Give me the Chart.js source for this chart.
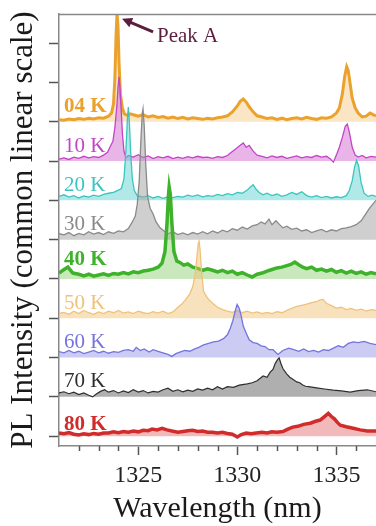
<!DOCTYPE html>
<html>
<head>
<meta charset="utf-8">
<script src="https://cdn.jsdelivr.net/npm/chart.js@4.4.1/dist/chart.umd.min.js"></script>
<style>
  html, body { margin: 0; padding: 0; background: #fff; overflow: hidden; }
</style>
</head>
<body>
<canvas id="pl" width="376" height="526"></canvas>
<script>
// PL spectra, stacked with one unit of offset per temperature.
// each entry: [wavelength nm, intensity above own baseline]
const temps = ['04 K', '10 K', '20 K', '30 K', '40 K', '50 K', '60 K', '70 K', '80 K'];
const offsets = [8, 7, 6, 5, 4, 3, 2, 1, 0];

const s04 = [[1321,0.05],[1321.25,0.04],[1321.5,0.07],[1321.75,0.05],[1322,0.08],[1322.25,0.06],[1322.5,0.09],[1322.75,0.07],[1323,0.1],[1323.25,0.09],[1323.5,0.14],[1323.65,0.22],[1323.75,0.45],[1323.82,1.1],[1323.88,2.2],[1323.93,2.77],[1323.98,2.4],[1324.03,1.5],[1324.1,0.7],[1324.2,0.35],[1324.3,0.2],[1324.45,0.16],[1324.6,0.2],[1324.8,0.17],[1325,0.14],[1325.25,0.18],[1325.5,0.12],[1325.75,0.15],[1326,0.11],[1326.25,0.13],[1326.5,0.09],[1326.75,0.12],[1327,0.08],[1327.25,0.11],[1327.5,0.07],[1327.75,0.1],[1328,0.08],[1328.25,0.06],[1328.5,0.09],[1328.75,0.07],[1329,0.1],[1329.25,0.12],[1329.5,0.15],[1329.75,0.25],[1330,0.4],[1330.15,0.52],[1330.3,0.58],[1330.45,0.5],[1330.6,0.38],[1330.8,0.25],[1331,0.15],[1331.25,0.12],[1331.5,0.08],[1331.75,0.1],[1332,0.06],[1332.25,0.09],[1332.5,0.05],[1332.75,0.08],[1333,0.1],[1333.25,0.07],[1333.5,0.11],[1333.75,0.08],[1334,0.06],[1334.25,0.1],[1334.5,0.09],[1334.75,0.12],[1335,0.22],[1335.15,0.35],[1335.3,0.7],[1335.42,1.15],[1335.52,1.4],[1335.6,1.3],[1335.7,0.95],[1335.8,0.6],[1335.95,0.35],[1336.1,0.22],[1336.3,0.12],[1336.5,0.14],[1336.7,0.22],[1336.85,0.18],[1337,0.15]];

const s10 = [[1321,0.05],[1321.25,0.08],[1321.5,0.04],[1321.75,0.1],[1322,0.07],[1322.25,0.12],[1322.5,0.08],[1322.75,0.11],[1323,0.09],[1323.25,0.15],[1323.45,0.22],[1323.6,0.38],[1323.72,0.5],[1323.82,0.85],[1323.92,1.4],[1323.98,1.9],[1324.03,2.14],[1324.08,1.85],[1324.14,1.3],[1324.2,0.7],[1324.28,0.25],[1324.38,0.08],[1324.5,0.14],[1324.75,0.1],[1325,0.16],[1325.25,0.09],[1325.5,0.13],[1325.75,0.06],[1326,0.11],[1326.25,0.08],[1326.5,0.12],[1326.75,0.06],[1327,0.1],[1327.25,0.07],[1327.5,0.11],[1327.75,0.08],[1328,0.12],[1328.25,0.09],[1328.5,0.1],[1328.75,0.07],[1329,0.11],[1329.25,0.09],[1329.5,0.14],[1329.7,0.22],[1329.9,0.3],[1330.1,0.38],[1330.3,0.46],[1330.45,0.35],[1330.6,0.4],[1330.8,0.25],[1331,0.15],[1331.25,0.12],[1331.5,0.08],[1331.75,0.13],[1332,0.09],[1332.25,0.12],[1332.5,0.07],[1332.75,0.1],[1333,0.13],[1333.25,0.08],[1333.5,0.11],[1333.75,0.09],[1334,0.14],[1334.25,0.1],[1334.5,0.12],[1334.7,0.05],[1334.85,-0.03],[1335,0.15],[1335.15,0.35],[1335.3,0.6],[1335.45,0.88],[1335.55,0.94],[1335.65,0.75],[1335.8,0.35],[1335.95,0.15],[1336.1,0.1],[1336.3,0.14],[1336.5,0.08],[1336.75,0.12],[1337,0.1]];

const s20 = [[1321,0.1],[1321.25,0.14],[1321.5,0.08],[1321.75,0.12],[1322,0.06],[1322.25,0.11],[1322.5,0.08],[1322.75,0.13],[1323,0.1],[1323.25,0.15],[1323.5,0.18],[1323.75,0.2],[1324,0.26],[1324.15,0.3],[1324.28,0.55],[1324.38,1.3],[1324.45,2.05],[1324.5,2.37],[1324.55,2.0],[1324.62,1.2],[1324.7,0.55],[1324.8,0.25],[1324.95,0.12],[1325.25,0.08],[1325.5,0.12],[1325.75,0.06],[1326,0.1],[1326.25,0.05],[1326.5,0.09],[1326.75,0.07],[1327,0.1],[1327.25,0.08],[1327.5,0.13],[1327.75,0.1],[1328,0.14],[1328.25,0.09],[1328.5,0.12],[1328.75,0.1],[1329,0.15],[1329.25,0.12],[1329.5,0.17],[1329.75,0.14],[1330,0.2],[1330.25,0.18],[1330.5,0.26],[1330.7,0.36],[1330.8,0.4],[1330.95,0.28],[1331.1,0.2],[1331.3,0.14],[1331.5,0.18],[1331.75,0.12],[1332,0.16],[1332.25,0.1],[1332.5,0.14],[1332.75,0.2],[1333,0.15],[1333.25,0.22],[1333.5,0.12],[1333.75,0.08],[1334,0.12],[1334.25,0.07],[1334.5,0.1],[1334.75,0.06],[1335,0.09],[1335.25,0.07],[1335.5,0.12],[1335.65,0.25],[1335.8,0.5],[1335.92,0.85],[1336.02,1.02],[1336.12,0.88],[1336.25,0.45],[1336.4,0.18],[1336.6,0.1],[1336.8,0.13],[1337,0.1]];

const s30 = [[1321,0.15],[1321.25,0.12],[1321.5,0.18],[1321.75,0.1],[1322,0.16],[1322.25,0.12],[1322.5,0.2],[1322.75,0.14],[1323,0.18],[1323.25,0.13],[1323.5,0.2],[1323.75,0.16],[1324,0.22],[1324.25,0.2],[1324.5,0.28],[1324.7,0.45],[1324.85,0.6],[1324.95,0.9],[1325.05,1.5],[1325.13,2.5],[1325.2,3.2],[1325.24,3.33],[1325.3,2.9],[1325.38,1.9],[1325.47,1.1],[1325.6,0.8],[1325.75,0.65],[1325.9,0.45],[1326.1,0.3],[1326.3,0.22],[1326.5,0.15],[1326.75,0.2],[1327,0.13],[1327.25,0.17],[1327.5,0.12],[1327.75,0.18],[1328,0.14],[1328.25,0.2],[1328.5,0.15],[1328.75,0.22],[1329,0.17],[1329.25,0.24],[1329.5,0.2],[1329.75,0.28],[1330,0.24],[1330.25,0.32],[1330.5,0.27],[1330.75,0.35],[1331,0.38],[1331.2,0.45],[1331.4,0.4],[1331.6,0.52],[1331.75,0.38],[1331.95,0.48],[1332.1,0.4],[1332.3,0.3],[1332.5,0.34],[1332.75,0.26],[1333,0.29],[1333.25,0.22],[1333.5,0.25],[1333.75,0.18],[1334,0.22],[1334.25,0.26],[1334.5,0.2],[1334.75,0.25],[1335,0.22],[1335.25,0.28],[1335.5,0.3],[1335.75,0.33],[1336,0.38],[1336.25,0.48],[1336.45,0.63],[1336.65,0.78],[1336.8,0.88],[1337,1.0]];

const s40 = [[1321,0.15],[1321.2,0.22],[1321.45,0.3],[1321.7,0.15],[1322,0.12],[1322.25,0.08],[1322.5,0.12],[1322.75,0.07],[1323,0.1],[1323.25,0.13],[1323.5,0.09],[1323.75,0.14],[1324,0.12],[1324.25,0.16],[1324.5,0.13],[1324.75,0.18],[1325,0.16],[1325.25,0.2],[1325.5,0.22],[1325.75,0.25],[1326,0.3],[1326.2,0.4],[1326.35,0.7],[1326.45,1.4],[1326.52,2.1],[1326.56,2.34],[1326.62,2.15],[1326.7,1.4],[1326.8,0.7],[1326.95,0.45],[1327.1,0.42],[1327.3,0.35],[1327.5,0.38],[1327.75,0.3],[1328,0.27],[1328.25,0.22],[1328.5,0.26],[1328.75,0.22],[1329,0.18],[1329.25,0.22],[1329.5,0.16],[1329.75,0.2],[1330,0.12],[1330.25,0.16],[1330.5,0.1],[1330.75,0.05],[1331,0.12],[1331.25,0.15],[1331.5,0.2],[1331.75,0.24],[1332,0.28],[1332.25,0.3],[1332.5,0.34],[1332.7,0.37],[1332.9,0.43],[1333.1,0.36],[1333.3,0.3],[1333.5,0.26],[1333.75,0.3],[1334,0.22],[1334.25,0.25],[1334.5,0.2],[1334.75,0.24],[1335,0.17],[1335.25,0.21],[1335.5,0.15],[1335.75,0.2],[1336,0.14],[1336.25,0.18],[1336.5,0.12],[1336.75,0.16],[1337,0.13]];

const s50 = [[1321,0.12],[1321.25,0.15],[1321.5,0.1],[1321.75,0.18],[1322,0.12],[1322.25,0.2],[1322.5,0.14],[1322.75,0.1],[1323,0.16],[1323.25,0.12],[1323.5,0.18],[1323.75,0.14],[1324,0.2],[1324.25,0.13],[1324.5,0.16],[1324.75,0.12],[1325,0.18],[1325.25,0.14],[1325.5,0.12],[1325.75,0.17],[1326,0.13],[1326.25,0.18],[1326.5,0.12],[1326.75,0.16],[1327,0.28],[1327.2,0.36],[1327.4,0.48],[1327.6,0.62],[1327.75,0.8],[1327.88,1.15],[1327.97,1.6],[1328.03,1.9],[1328.07,1.96],[1328.12,1.75],[1328.2,1.15],[1328.3,0.68],[1328.45,0.55],[1328.6,0.45],[1328.8,0.36],[1329,0.28],[1329.25,0.22],[1329.5,0.18],[1329.75,0.15],[1330,0.2],[1330.25,0.14],[1330.5,0.18],[1330.75,0.13],[1331,0.16],[1331.25,0.12],[1331.5,0.15],[1331.75,0.12],[1332,0.17],[1332.25,0.14],[1332.5,0.2],[1332.75,0.25],[1333,0.3],[1333.25,0.33],[1333.5,0.36],[1333.75,0.4],[1334,0.42],[1334.15,0.46],[1334.33,0.48],[1334.5,0.38],[1334.75,0.32],[1335,0.26],[1335.25,0.28],[1335.5,0.22],[1335.75,0.25],[1336,0.2],[1336.25,0.23],[1336.5,0.18],[1336.75,0.22],[1337,0.2]];

const s60 = [[1321,0.15],[1321.25,0.12],[1321.5,0.18],[1321.75,0.12],[1322,0.16],[1322.25,0.1],[1322.5,0.14],[1322.75,0.18],[1323,0.12],[1323.25,0.16],[1323.5,0.11],[1323.75,0.15],[1324,0.13],[1324.25,0.18],[1324.5,0.2],[1324.75,0.16],[1324.9,0.26],[1325.1,0.18],[1325.3,0.22],[1325.55,0.14],[1325.75,0.2],[1326,0.16],[1326.25,0.12],[1326.5,0.08],[1326.7,0.03],[1326.9,0.1],[1327.1,0.14],[1327.35,0.18],[1327.6,0.16],[1327.85,0.22],[1328.05,0.26],[1328.3,0.32],[1328.55,0.36],[1328.8,0.4],[1329.05,0.42],[1329.3,0.48],[1329.5,0.58],[1329.65,0.75],[1329.78,0.95],[1329.9,1.2],[1329.99,1.35],[1330.1,1.25],[1330.2,1.05],[1330.3,0.8],[1330.45,0.62],[1330.6,0.45],[1330.8,0.38],[1331,0.36],[1331.2,0.3],[1331.4,0.28],[1331.6,0.2],[1331.8,0.2],[1332.05,0.08],[1332.3,0.18],[1332.6,0.24],[1332.85,0.2],[1333.1,0.16],[1333.35,0.22],[1333.6,0.15],[1333.85,0.18],[1334.1,0.14],[1334.35,0.2],[1334.6,0.18],[1334.85,0.24],[1335.1,0.3],[1335.35,0.26],[1335.6,0.36],[1335.85,0.4],[1336.1,0.38],[1336.4,0.41],[1336.7,0.36],[1337,0.33]];

const s70 = [[1321,0.1],[1321.25,0.13],[1321.5,0.08],[1321.75,0.12],[1322,0.06],[1322.25,0.1],[1322.5,0.04],[1322.7,0.0],[1322.9,0.08],[1323.1,0.14],[1323.3,0.18],[1323.5,0.12],[1323.75,0.16],[1324,0.1],[1324.25,0.15],[1324.5,0.11],[1324.75,0.18],[1325,0.12],[1325.25,0.16],[1325.5,0.1],[1325.75,0.14],[1326,0.12],[1326.25,0.18],[1326.5,0.22],[1326.75,0.14],[1327,0.18],[1327.25,0.13],[1327.5,0.17],[1327.75,0.14],[1328,0.2],[1328.25,0.17],[1328.5,0.22],[1328.75,0.18],[1329,0.26],[1329.25,0.2],[1329.5,0.26],[1329.8,0.24],[1330.1,0.3],[1330.5,0.33],[1330.75,0.36],[1331,0.41],[1331.3,0.53],[1331.5,0.5],[1331.66,0.63],[1331.8,0.7],[1331.92,0.86],[1332.05,0.96],[1332.11,0.99],[1332.2,0.85],[1332.3,0.72],[1332.5,0.58],[1332.65,0.5],[1332.8,0.45],[1333,0.38],[1333.15,0.36],[1333.3,0.3],[1333.45,0.27],[1333.6,0.26],[1334,0.23],[1334.4,0.2],[1334.84,0.17],[1335.25,0.15],[1335.7,0.12],[1336.1,0.16],[1336.56,0.18],[1337,0.13]];

const s80 = [[1321,0.08],[1321.25,0.06],[1321.5,0.09],[1321.75,0.05],[1322,0.03],[1322.25,0.06],[1322.5,0.04],[1322.75,0.07],[1323,0.05],[1323.25,0.08],[1323.5,0.08],[1323.75,0.11],[1324,0.09],[1324.25,0.12],[1324.5,0.1],[1324.75,0.13],[1325,0.11],[1325.25,0.15],[1325.5,0.14],[1325.7,0.18],[1325.95,0.16],[1326.2,0.2],[1326.45,0.16],[1326.7,0.13],[1327,0.1],[1327.25,0.12],[1327.5,0.14],[1327.75,0.15],[1328,0.12],[1328.25,0.13],[1328.5,0.1],[1328.75,0.1],[1329,0.08],[1329.25,0.1],[1329.5,0.07],[1329.75,0.05],[1330,-0.02],[1330.2,0.04],[1330.45,0.08],[1330.7,0.06],[1330.95,0.08],[1331.25,0.1],[1331.5,0.08],[1331.75,0.11],[1332,0.1],[1332.3,0.12],[1332.55,0.18],[1332.8,0.23],[1333.05,0.25],[1333.35,0.3],[1333.68,0.33],[1333.95,0.38],[1334.18,0.41],[1334.4,0.5],[1334.59,0.58],[1334.75,0.5],[1334.9,0.44],[1335.05,0.35],[1335.2,0.28],[1335.5,0.24],[1335.85,0.2],[1336.2,0.16],[1336.56,0.13],[1337,0.13]];

const spectra = [s04, s10, s20, s30, s40, s50, s60, s70, s80];

const majorTicks = [1325, 1330, 1335];
const minorTicks = [1322, 1323, 1324, 1326, 1327, 1328, 1329, 1331, 1332, 1333, 1334, 1336];
const yTicks = [0, 1, 2, 3, 4, 5, 6, 7, 8, 9, 10];

// Peak A sits on the 04 K spectrum
const peakA = { wl: 1323.93, v: 2.77 };

const lineColors = ['#EBA22C', '#C245C6', '#3CC5BE', '#8A8A8A', '#3DB22A', '#EFC27A', '#7474DC', '#2E2E2E', '#D22B2B'];
const fillColors = ['rgba(240,180,90,0.35)', 'rgba(215,120,215,0.55)', 'rgba(100,210,210,0.5)', 'rgba(160,160,160,0.5)',
  'rgba(120,200,90,0.4)', 'rgba(240,190,110,0.45)', 'rgba(140,140,230,0.45)', 'rgba(110,110,110,0.55)', 'rgba(220,80,80,0.4)'];
const lineWidths = [3, 1.3, 1.3, 1.3, 3.5, 1.3, 1.3, 1.2, 3.5];
const boldLabel = [true, false, false, false, true, false, false, false, true];

const SERIF = "'Liberation Serif', 'Times New Roman', serif";
Chart.defaults.font.family = SERIF;

const datasets = spectra.map((s, i) => ({
  label: temps[i],
  data: s.map(p => ({ x: p[0], y: p[1] + offsets[i] })),
  borderColor: lineColors[i],
  backgroundColor: fillColors[i],
  borderWidth: lineWidths[i],
  fill: { value: offsets[i] },
  pointRadius: 0,
  tension: 0,
  order: offsets[i]
}));

// minor ticks, frame top, temperature labels and the Peak A arrow
const extras = {
  id: 'extras',
  afterDraw(chart) {
    const ctx = chart.ctx;
    const x = chart.scales.x, y = chart.scales.y;
    const area = chart.chartArea;
    ctx.save();

    ctx.strokeStyle = '#555';
    ctx.lineWidth = 1.5;
    minorTicks.forEach(v => {
      const px = Math.round(x.getPixelForValue(v)) + 0.5;
      ctx.beginPath();
      ctx.moveTo(px, area.bottom);
      ctx.lineTo(px, area.bottom + 5);
      ctx.stroke();
    });

    ctx.strokeStyle = '#888';
    ctx.beginPath();
    ctx.moveTo(area.left, area.top + 0.5);
    ctx.lineTo(area.right, area.top + 0.5);
    ctx.stroke();

    ctx.textBaseline = 'alphabetic';
    ctx.textAlign = 'left';
    temps.forEach((t, i) => {
      ctx.font = (boldLabel[i] ? 'bold ' : '') + '21px ' + SERIF;
      ctx.fillStyle = lineColors[i];
      const lift = boldLabel[i] ? (i === 4 ? 0.36 : (i === 8 ? 0.16 : 0.25)) : 0.24;
      ctx.fillText(t, x.getPixelForValue(1321.25), y.getPixelForValue(offsets[i] + lift));
    });

    const px = x.getPixelForValue(peakA.wl);
    const py = y.getPixelForValue(peakA.v + offsets[0]);
    const tipX = px + 5, tipY = py + 6;
    const tailX = px + 36, tailY = py + 19;
    const ang = Math.atan2(tipY - tailY, tipX - tailX);
    ctx.strokeStyle = '#5B1E3E';
    ctx.fillStyle = '#5B1E3E';
    ctx.lineWidth = 3;
    ctx.beginPath();
    ctx.moveTo(tailX, tailY);
    ctx.lineTo(tipX - 6 * Math.cos(ang), tipY - 6 * Math.sin(ang));
    ctx.stroke();
    ctx.beginPath();
    ctx.moveTo(tipX, tipY);
    ctx.lineTo(tipX - 10 * Math.cos(ang) + 5 * Math.sin(ang), tipY - 10 * Math.sin(ang) - 5 * Math.cos(ang));
    ctx.lineTo(tipX - 10 * Math.cos(ang) - 5 * Math.sin(ang), tipY - 10 * Math.sin(ang) + 5 * Math.cos(ang));
    ctx.closePath();
    ctx.fill();
    ctx.font = '21px ' + SERIF;
    ctx.fillText('Peak A', px + 40, py + 29);

    ctx.restore();
  }
};

new Chart(document.getElementById('pl'), {
  type: 'line',
  data: { datasets },
  options: {
    responsive: false,
    animation: false,
    layout: { padding: { top: 14, right: 0, left: 0, bottom: 0 } },
    plugins: { legend: { display: false }, tooltip: { enabled: false } },
    scales: {
      x: {
        type: 'linear',
        min: 1321,
        max: 1337,
        afterBuildTicks: s => { s.ticks = majorTicks.map(v => ({ value: v })); },
        afterFit: s => { s.height = 80; },
        grid: { drawOnChartArea: false, tickLength: 9, tickColor: '#555', tickWidth: 1.5 },
        border: { color: '#888', width: 1.5 },
        ticks: { color: '#222', font: { size: 24 }, padding: 6, maxRotation: 0, callback: v => String(v) },
        title: { display: true, text: 'Wavelength (nm)', color: '#1a1a1a', font: { size: 30, lineHeight: 1.13 }, padding: 0 }
      },
      y: {
        min: -0.25,
        max: 10.74,
        afterBuildTicks: s => { s.ticks = yTicks.map(v => ({ value: v })); },
        afterFit: s => { s.width = 59; },
        grid: { drawOnChartArea: false, tickLength: 10, tickColor: '#555', tickWidth: 1.5 },
        border: { color: '#888', width: 1.5 },
        ticks: { callback: () => '' },
        title: { display: true, text: 'PL Intensity (common linear scale)', color: '#1a1a1a', font: { size: 31 }, padding: { top: 5, bottom: 0 } }
      }
    }
  },
  plugins: [extras]
});
</script>
</body>
</html>
